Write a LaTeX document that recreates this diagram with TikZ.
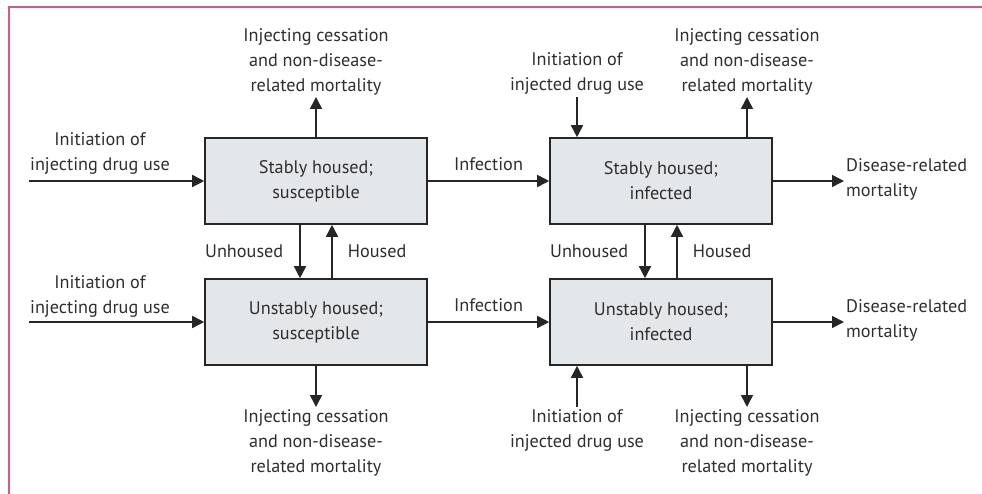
\documentclass[tikz,border=0pt]{standalone}
\usepackage{fontspec}
\setmainfont{PT Sans}
\usetikzlibrary{arrows.meta}

\definecolor{boxfill}{HTML}{E4E7EA}
\definecolor{framepink}{HTML}{D65A7E}
\definecolor{textgray}{HTML}{2E2E2E}

\tikzset{
  compartment/.style = {shape = rectangle, draw = black!85, fill = boxfill,
    line width = 1.6pt, minimum width = 222pt, minimum height = 86pt,
    align = center, text = textgray},
  flowlabel/.style = {align = center, text = textgray, inner sep = 2pt},
  flow/.style = {line width = 1.6pt, draw = black!85,
    -{Triangle[length = 12pt, width = 12pt]}},
}

\begin{document}
\begin{tikzpicture}[x = 1pt, y = -1pt, font = \fontsize{18.2}{25}\selectfont]
        \useasboundingbox (0, 0) rectangle (982, 494);
        \draw[framepink, line width = 1.2pt] (9, 494) -- (9, 7) -- (982, 7);

        % ------------------------------------------------------------------------
        % Compartments
        \node[compartment] at (316, 181) (SS) {Stably housed;\\susceptible};
        \node[compartment] at (661, 181) (SI) {Stably housed;\\infected};
        \node[compartment] at (316, 322) (US) {Unstably housed;\\susceptible};
        \node[compartment] at (661, 322) (UI) {Unstably housed;\\infected};

        % ------------------------------------------------------------------------
        % Entries
        \coordinate (SSin) at (29, 181);
        \coordinate (USin) at (29, 322);
        \node[flowlabel] at (100, 153) {Initiation of\\injecting drug use};
        \node[flowlabel] at (100, 296) {Initiation of\\injecting drug use};

        \node[flowlabel, anchor = south] at (577, 97) (SIin) {Initiation of\\injected drug use};
        \node[flowlabel, anchor = north] at (577, 407) (UIin) {Initiation of\\injected drug use};

        % ------------------------------------------------------------------------
        % Exits
        \node[flowlabel, anchor = south] at (316, 97) (SSout)
          {Injecting cessation\\and non-disease-\\related mortality};
        \node[flowlabel, anchor = south] at (747, 97) (SIout)
          {Injecting cessation\\and non-disease-\\related mortality};
        \node[flowlabel, anchor = north] at (316, 407) (USout)
          {Injecting cessation\\and non-disease-\\related mortality};
        \node[flowlabel, anchor = north] at (747, 407) (UIout)
          {Injecting cessation\\and non-disease-\\related mortality};

        \node[flowlabel, anchor = west, align = left] at (844, 179) (SIdead)
          {Disease-related\\mortality};
        \node[flowlabel, anchor = west, align = left] at (844, 320) (UIdead)
          {Disease-related\\mortality};

        % ------------------------------------------------------------------------
        % Flows
        \path
          (SSin) edge[flow] (SS)
          (USin) edge[flow] (US)
          (SIin) edge[flow] (SIin |- SI.north)
          (UIin) edge[flow] (UIin |- UI.south)
        ;
        \path
          (SS) edge[flow] (SSout)
          (US) edge[flow] (USout)
          (SIout.south |- SI.north) edge[flow] (SIout.south)
          (UIout.north |- UI.south) edge[flow] (UIout.north)
          (SI.east) edge[flow] (SI.east -| SIdead.west)
          (UI.east) edge[flow] (UI.east -| UIdead.west)
        ;
        \path
          (SS) edge[flow] node[flowlabel, above = 7pt] {Infection} (SI)
          (US) edge[flow] node[flowlabel, above = 7pt] {Infection} (UI)
        ;
        \path
          ([xshift = -16pt]SS.south) edge[flow] node[flowlabel, left = 14pt] {Unhoused} ([xshift = -16pt]US.north)
          ([xshift = 16pt]US.north) edge[flow] node[flowlabel, right = 13pt] {Housed} ([xshift = 16pt]SS.south)
          ([xshift = -16pt]SI.south) edge[flow] node[flowlabel, left = 14pt] {Unhoused} ([xshift = -16pt]UI.north)
          ([xshift = 16pt]UI.north) edge[flow] node[flowlabel, right = 13pt] {Housed} ([xshift = 16pt]SI.south)
        ;
      \end{tikzpicture}
\end{document}
